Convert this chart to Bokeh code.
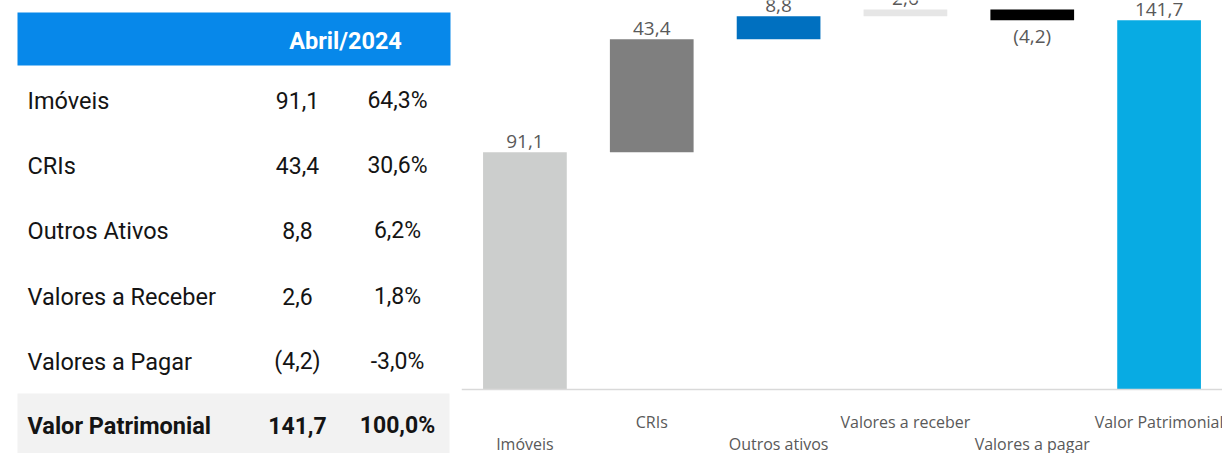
from bokeh.plotting import figure
from bokeh.models import Range1d, FactorRange, ColumnDataSource, Span
from bokeh.layouts import row
from bokeh.core.properties import value
from bokeh.embed import file_html
from bokeh.resources import INLINE

# ---------------- data ----------------
header = "Abril/2024"
table_labels = ["Imóveis", "CRIs", "Outros Ativos", "Valores a Receber", "Valores a Pagar"]
total_table_label = "Valor Patrimonial"
categories = ["Imóveis", "CRIs", "Outros ativos", "Valores a receber", "Valores a pagar"]
total_category = "Valor Patrimonial"
amounts = [91.1, 43.4, 8.8, 2.6, -4.2]
bar_colors = ["#CCCECD", "#7F7F7F", "#0070C0", "#E6E6E6", "#000000", "#08ABE3"]

total = round(sum(amounts), 1)


def fmt(v):
    s = f"{abs(v):.1f}".replace(".", ",")
    return f"({s})" if v < 0 else s


def fmt_pct(v):
    return f"{v:.1f}".replace(".", ",") + "%"


W_T, W_C, H = 461, 761, 453

# ---------------- table (left) ----------------
FONT_T = value("Roboto")
t = figure(width=W_T, height=H, x_range=Range1d(0, W_T), y_range=Range1d(H, 0),
           toolbar_location=None, output_backend="svg", min_border=0)
t.axis.visible = False
t.grid.visible = False
t.outline_line_color = None

t.quad(left=[17], right=[450], top=[12], bottom=[65], color="#0788EA", line_color=None)
t.quad(left=[17], right=[449], top=[393], bottom=[453], color="#F2F2F2", line_color=None)
t.text(x=[345], y=[40], text=[header], text_font=FONT_T, text_font_size="23.5px",
       text_font_style="bold", text_color="white", text_align="center", text_baseline="middle")

all_labels = table_labels + [total_table_label]
all_vals = amounts + [total]
row_y = [100, 165, 230, 296, 361, 425]
for i, (lab, v) in enumerate(zip(all_labels, all_vals)):
    style = "bold" if i == len(all_labels) - 1 else "normal"
    y = row_y[i]
    t.text(x=[27], y=[y], text=[lab], text_font=FONT_T, text_font_size="23.5px", text_font_style=style,
           text_color="#141414", text_align="left", text_baseline="middle")
    t.text(x=[297], y=[y], text=[fmt(v)], text_font=FONT_T, text_font_size="23px", text_font_style=style,
           text_color="#141414", text_align="center", text_baseline="middle")
    t.text(x=[397], y=[y], text=[fmt_pct(v / total * 100)], text_font=FONT_T, text_font_size="23px",
           text_font_style=style, text_color="#141414", text_align="center", text_baseline="middle")

# ---------------- waterfall (right) ----------------
cats = categories + [total_category]
bottoms, tops = [], []
cum = 0.0
for a in amounts:
    bottoms.append(min(cum, cum + a))
    tops.append(max(cum, cum + a))
    cum += a
bottoms.append(0.0)
tops.append(total)
vals = amounts + [total]

PX_PER_UNIT = 2.605
BASE_Y = 389  # pixel row of the baseline from the top
y_end = BASE_Y / PX_PER_UNIT
y_start = -(H - BASE_Y) / PX_PER_UNIT

src = ColumnDataSource(dict(cat=cats, bottom=bottoms, top=tops, color=bar_colors))

c = figure(width=W_C, height=H, x_range=FactorRange(*cats, range_padding=0),
           y_range=Range1d(y_start, y_end), toolbar_location=None, output_backend="svg",
           min_border=0)
c.axis.visible = False
c.grid.visible = False
c.outline_line_color = None

c.add_layout(Span(location=0, dimension="width", line_color="#D9D9D9", line_width=1.5))
c.vbar(x="cat", bottom="bottom", top="top", width=0.66, color="color", line_color=None, source=src)

pos = [i for i, v in enumerate(vals) if v >= 0]
neg = [i for i, v in enumerate(vals) if v < 0]
c.text(x=[cats[i] for i in pos], y=[tops[i] for i in pos], text=[fmt(vals[i]) for i in pos],
       text_font=value("Open Sans"), text_font_size="19px", text_color="#595959",
       text_align="center", text_baseline="bottom", y_offset=-4)
c.text(x=[cats[i] for i in neg], y=[bottoms[i] for i in neg], text=[fmt(vals[i]) for i in neg],
       text_font=value("Open Sans"), text_font_size="19px", text_color="#595959",
       text_align="center", text_baseline="top", y_offset=3)

# staggered category labels below the baseline
upper_y = -(421 - BASE_Y) / PX_PER_UNIT
lower_y = -(443 - BASE_Y) / PX_PER_UNIT
c.text(x=cats, y=[lower_y if i % 2 == 0 else upper_y for i in range(len(cats))], text=cats,
       text_font=value("Open Sans"), text_font_size="16px", text_color="#595959",
       text_align="center", text_baseline="middle")

layout = row(t, c)
open("out.html", "w").write(file_html(layout, INLINE))
